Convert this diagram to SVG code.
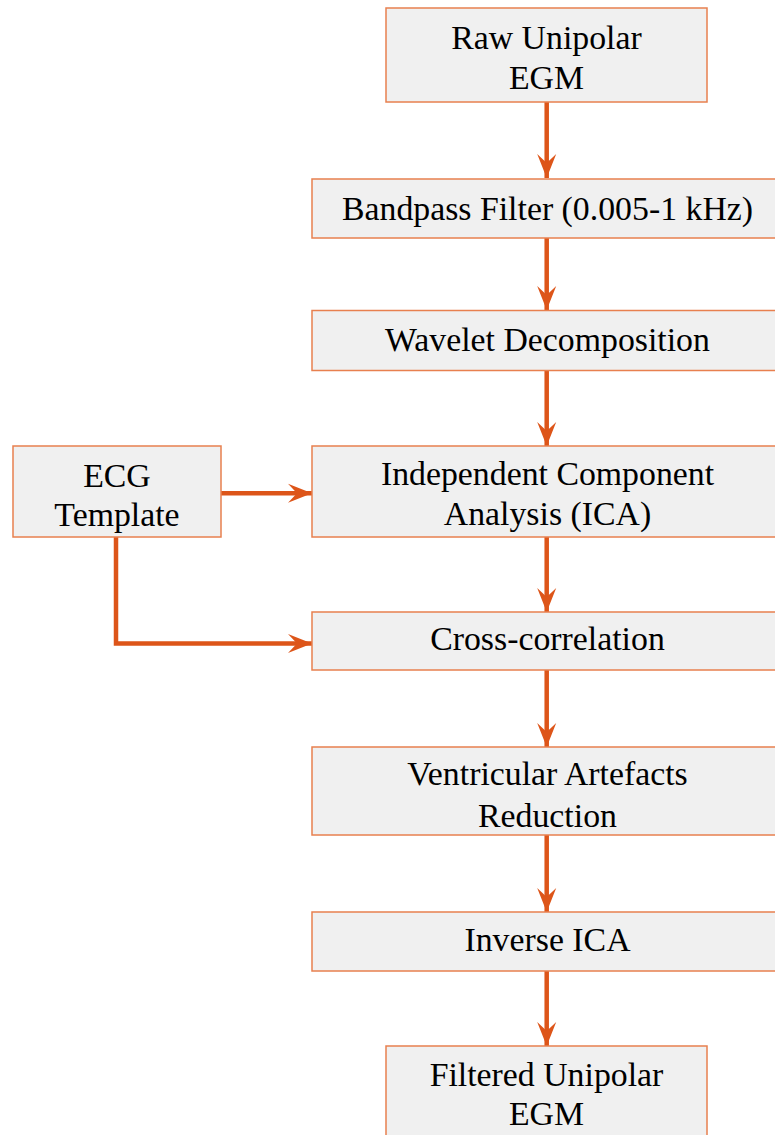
<svg xmlns="http://www.w3.org/2000/svg" width="775" height="1135" viewBox="0 0 775 1135">
  <defs>
    <style>
      .box { fill: #F0F0F0; stroke: #E8804F; stroke-width: 1.5; }
      .lbl { font-family: "Liberation Serif", "Times New Roman", serif; font-size: 33.8px; fill: #000; text-anchor: middle; }
      .conn { fill: none; stroke: #DD5519; stroke-width: 4.5; }
    </style>
    <marker id="arr" markerUnits="userSpaceOnUse" markerWidth="26" markerHeight="22" refX="24" refY="10" orient="auto" viewBox="0 0 26 20">
      <path d="M0,0.5 L24,10 L0,19.5 L9,10 Z" fill="#DD5519"/>
    </marker>
  </defs>
  <rect width="775" height="1135" fill="#FFFFFF"/>

  <g id="connectors">
    <line class="conn" x1="546.7" y1="102" x2="546.7" y2="178" marker-end="url(#arr)"/>
    <line class="conn" x1="546.7" y1="238" x2="546.7" y2="310" marker-end="url(#arr)"/>
    <line class="conn" x1="546.7" y1="371" x2="546.7" y2="446" marker-end="url(#arr)"/>
    <line class="conn" x1="546.7" y1="537" x2="546.7" y2="612" marker-end="url(#arr)"/>
    <line class="conn" x1="546.7" y1="670" x2="546.7" y2="747" marker-end="url(#arr)"/>
    <line class="conn" x1="546.7" y1="835" x2="546.7" y2="912" marker-end="url(#arr)"/>
    <line class="conn" x1="546.7" y1="971" x2="546.7" y2="1046" marker-end="url(#arr)"/>
    <line class="conn" x1="221" y1="493.3" x2="312" y2="493.3" marker-end="url(#arr)"/>
    <polyline class="conn" points="116,537 116,643.5 312,643.5" stroke-linejoin="miter" marker-end="url(#arr)"/>
  </g>

  <g id="raw">
    <rect class="box" x="386" y="8" width="321" height="94"/>
    <text class="lbl" x="546.5" y="48.5">Raw Unipolar</text>
    <text class="lbl" x="546.5" y="88.5">EGM</text>
  </g>
  <g id="bandpass">
    <rect class="box" x="312" y="179" width="470" height="59"/>
    <text class="lbl" x="547.5" y="219.5">Bandpass Filter (0.005-1 kHz)</text>
  </g>
  <g id="wavelet">
    <rect class="box" x="312" y="310.5" width="470" height="60"/>
    <text class="lbl" x="547.5" y="351">Wavelet Decomposition</text>
  </g>
  <g id="ica">
    <rect class="box" x="312" y="446" width="470" height="91"/>
    <text class="lbl" x="547.5" y="485">Independent Component</text>
    <text class="lbl" x="547.5" y="525">Analysis (ICA)</text>
  </g>
  <g id="ecg">
    <rect class="box" x="13" y="446" width="208" height="91"/>
    <text class="lbl" x="117" y="486.5">ECG</text>
    <text class="lbl" x="117" y="526">Template</text>
  </g>
  <g id="xcorr">
    <rect class="box" x="312" y="612" width="470" height="58"/>
    <text class="lbl" x="547.5" y="650">Cross-correlation</text>
  </g>
  <g id="var">
    <rect class="box" x="312" y="747" width="470" height="88"/>
    <text class="lbl" x="547.5" y="785">Ventricular Artefacts</text>
    <text class="lbl" x="547.5" y="826.5">Reduction</text>
  </g>
  <g id="invica">
    <rect class="box" x="312" y="912" width="470" height="59"/>
    <text class="lbl" x="547.5" y="950.5">Inverse ICA</text>
  </g>
  <g id="filtered">
    <rect class="box" x="386" y="1046" width="321" height="100"/>
    <text class="lbl" x="546.5" y="1086">Filtered Unipolar</text>
    <text class="lbl" x="546.5" y="1125">EGM</text>
  </g>
</svg>
